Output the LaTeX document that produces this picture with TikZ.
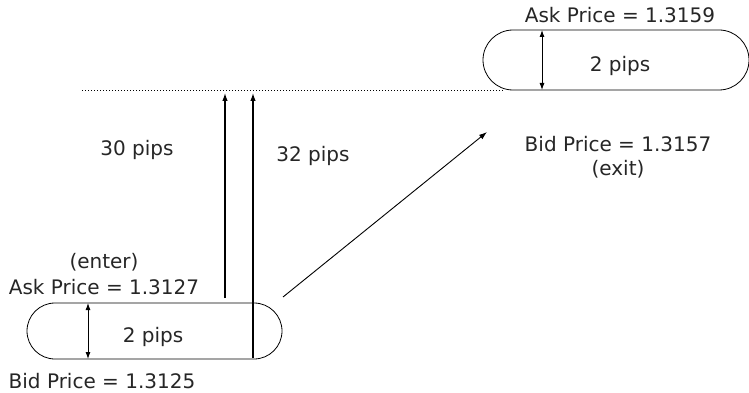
\documentclass[tikz,border=0pt]{standalone}
\usepackage{fontspec}
\setmainfont{DejaVu Sans}
\usetikzlibrary{arrows.meta,shapes.misc}
\begin{document}
\begin{tikzpicture}[x=1pt,y=-1pt,
  capsule/.style={draw,rounded rectangle,line width=0.8pt,inner sep=0pt},
  lbl/.style={font=\fontsize{20}{24}\selectfont,inner sep=0pt,text=black!85},
  tip/.style={-{Latex[length=8pt,width=5.5pt]}},
  both/.style={{Latex[length=7pt,width=5pt]}-{Latex[length=7pt,width=5pt]}},
  vline/.style={line width=1.2pt}]
\useasboundingbox (0,0) rectangle (749,393);

% lower (entry) spread
\node[capsule,minimum width=255pt,minimum height=56pt] (lowcap) at (154.5,331) {};
\node[lbl] (lowpips) at (153,337) {2 pips};
\node[lbl] (enter) at (104,262) {(enter)};
\node[lbl] (lowask) at (104,287) {Ask Price = 1.3127};
\node[lbl] (lowbid) at (102,381) {Bid Price = 1.3125};
\coordinate (lowtop) at (88,303);
\coordinate (lowbot) at (88,359);
\draw[both,line width=0.9pt] (lowbot) -- (lowtop);

% upper (exit) spread
\node[capsule,minimum width=266pt,minimum height=60pt] (highcap) at (616,60) {};
\node[lbl] (highpips) at (620,66) {2 pips};
\node[lbl] (highask) at (620,15) {Ask Price = 1.3159};
\node[lbl] (highbid) at (618,144) {Bid Price = 1.3157};
\node[lbl] (exit) at (618,169) {(exit)};
\coordinate (hightop) at (542,30);
\coordinate (highbot) at (542,90);
\draw[both,line width=0.9pt] (highbot) -- (hightop);

% level of the exit bid
\coordinate (lvlL) at (82,91);
\coordinate (lvlR) at (504,91);
\draw[dotted,line width=1pt] (lvlL) -- (lvlR);

% moves up to the exit level
\coordinate (a1s) at (225,298);
\coordinate (a1e) at (225,93);
\coordinate (a2s) at (253,358);
\coordinate (a2e) at (253,93);
\draw[vline,tip] (a1s) -- (a1e);
\draw[vline,tip] (a2s) -- (a2e);
\node[lbl] (p30) at (137,150) {30 pips};
\node[lbl] (p32) at (313,156) {32 pips};

% path of the trade
\coordinate (ds) at (283,297);
\coordinate (de) at (487,132);
\draw[line width=0.9pt,tip] (ds) -- (de);
\end{tikzpicture}
\end{document}
